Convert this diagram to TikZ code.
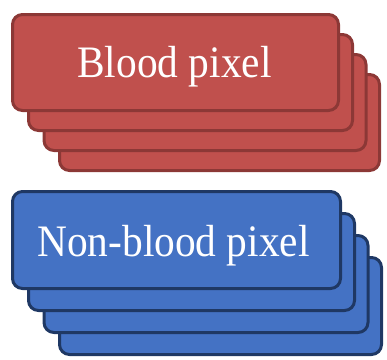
\documentclass[tikz,border=0pt]{standalone}
\usepackage{fontspec}
\setmainfont{Liberation Serif}
\definecolor{redfill}{HTML}{C0504D}
\definecolor{redline}{HTML}{8C3836}
\definecolor{bluefill}{HTML}{4472C4}
\definecolor{blueline}{HTML}{1F3864}
\begin{document}
\begin{tikzpicture}[x=1pt,y=1pt,
  card/.style={draw, line width=3pt, rounded corners=10pt, inner sep=0pt, outer sep=0pt, anchor=north west},
  redcard/.style={card, fill=redfill, draw=redline, minimum height=96pt},
  bluecard/.style={card, fill=bluefill, draw=blueline, minimum height=97pt},
  label/.style={text=white, anchor=base, inner sep=0pt, font=\fontsize{45}{50}\selectfont}]
\useasboundingbox (0,0) rectangle (387,-359);
% red stack (back to front)
\node[redcard, minimum width=320pt] (r3) at (59.5,-74.5) {};
\node[redcard, minimum width=322pt] (r2) at (44,-54.5) {};
\node[redcard, minimum width=324pt] (r1) at (28.5,-34.5) {};
\node[redcard, minimum width=326pt] (r0) at (12.5,-14.5) {};
\node[label] (rt) at (174.5,-77) {\scalebox{0.92}[1]{Blood pixel}};
% blue stack (back to front)
\node[bluecard, minimum width=322pt] (b3) at (59.5,-257.5) {};
\node[bluecard, minimum width=324pt] (b2) at (44,-235.5) {};
\node[bluecard, minimum width=326pt] (b1) at (28.5,-213.5) {};
\node[bluecard, minimum width=328pt] (b0) at (12.5,-191.5) {};
\node[label] (bt) at (173.5,-256) {\scalebox{0.92}[1]{Non-blood pixel}};
\end{tikzpicture}
\end{document}
